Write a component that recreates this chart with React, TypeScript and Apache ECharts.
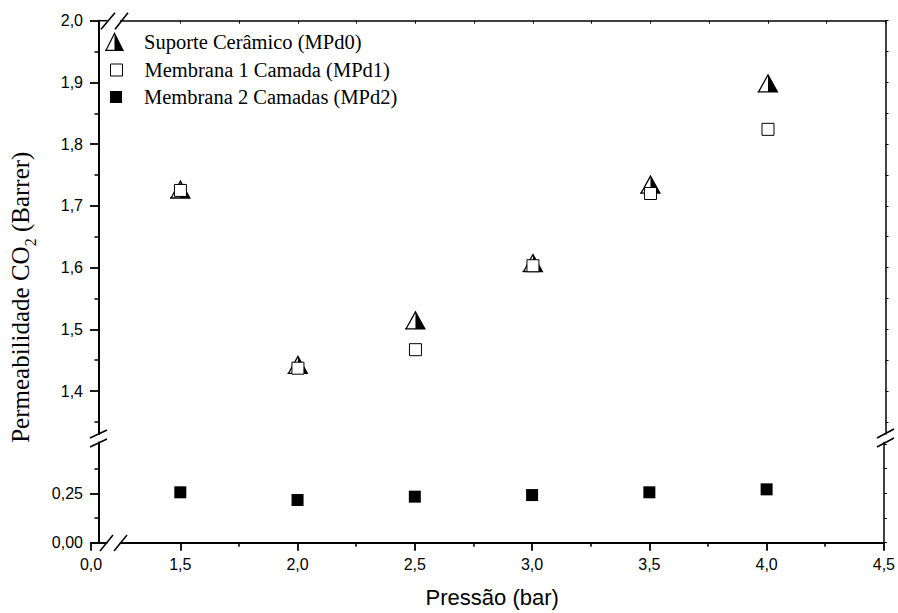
import React, { useEffect, useRef } from 'react';
import * as echarts from 'echarts';

// ---------- data ----------
const pressure = [1.5, 2.0, 2.5, 3.0, 3.5, 4.0];
const mpd0 = [1.727, 1.443, 1.515, 1.608, 1.735, 1.899];
const mpd1 = [1.725, 1.437, 1.467, 1.603, 1.72, 1.824];
const mpd2 = [0.255, 0.216, 0.233, 0.241, 0.255, 0.27];

const seriesNames = ['Suporte Cerâmico (MPd0)', 'Membrana 1 Camada (MPd1)', 'Membrana 2 Camadas (MPd2)'];

const xMajor = [1.5, 2.0, 2.5, 3.0, 3.5, 4.0, 4.5];
const xMinor = [1.75, 2.25, 2.75, 3.25, 3.75, 4.25];
const xLeftTicks = [0];
const yUpMajor = [1.4, 1.5, 1.6, 1.7, 1.8, 1.9, 2.0];
const yUpMinor = [1.35, 1.45, 1.55, 1.65, 1.75, 1.85, 1.95];
const yLoMajor = [0, 0.25];
const yLoMinor = [0.125, 0.375];

// ---------- axis ranges (broken axes) ----------
const X_MIN = 1.245;
const X_MAX = 4.5;
const XL_MAX = 0.066;
const YU_MIN = 1.3304;
const YU_MAX = 2.0;
const YL_MIN = 0;
const YL_MAX = 0.507;

const BLACK = '#000';
const SANS = 'Liberation Sans, Arial, sans-serif';
const SERIF = 'Liberation Serif, Times New Roman, serif';
const TRI = 'path://M50 0 L50 100 L100 100 Z M50 0 L0 100 L7 100 L50 14 Z M0 100 L50 100 L50 93 L0 93 Z';

const fmt1 = (v: number) => v.toFixed(1).replace('.', ',');
const fmt2 = (v: number) => v.toFixed(2).replace('.', ',');

const line = (w: number) => ({ show: true, onZero: false, lineStyle: { color: BLACK, width: w } });
const noLine = { show: false, onZero: false };
const tickLbl = { fontFamily: SANS, fontSize: 16, color: BLACK };

function buildOption() {
  const xAxis: any[] = [
    // 0: top border of upper panel
    {
      type: 'value', gridIndex: 0, position: 'top', min: X_MIN, max: X_MAX,
      axisLine: line(1.5),
      axisTick: { show: true, inside: true, length: 3, customValues: [...xMajor, ...xMinor], lineStyle: { color: BLACK, width: 1 } },
      axisLabel: { show: false }, splitLine: { show: false },
    },
    // 1: bottom main axis
    {
      type: 'value', gridIndex: 1, position: 'bottom', min: X_MIN, max: X_MAX,
      axisLine: line(2),
      axisTick: { show: true, length: 8, customValues: xMajor, lineStyle: { color: BLACK, width: 1.8 } },
      axisLabel: { show: true, customValues: xMajor, formatter: fmt1, margin: 14, ...tickLbl },
      splitLine: { show: false },
    },
    // 2: bottom minor ticks
    {
      type: 'value', gridIndex: 1, position: 'bottom', min: X_MIN, max: X_MAX,
      axisLine: noLine,
      axisTick: { show: true, length: 4, customValues: xMinor, lineStyle: { color: BLACK, width: 1.5 } },
      axisLabel: { show: false }, splitLine: { show: false },
    },
    // 3: short left piece of broken x axis
    {
      type: 'value', gridIndex: 2, position: 'bottom', min: 0, max: XL_MAX,
      axisLine: line(2),
      axisTick: { show: true, length: 8, customValues: xLeftTicks, lineStyle: { color: BLACK, width: 1.8 } },
      axisLabel: { show: true, customValues: xLeftTicks, formatter: fmt1, margin: 14, ...tickLbl },
      splitLine: { show: false },
    },
    // 4: name carrier
    {
      type: 'value', gridIndex: 3, position: 'bottom', min: 0, max: 1,
      axisLine: noLine, axisTick: { show: false }, axisLabel: { show: false }, splitLine: { show: false },
      name: 'Pressão (bar)', nameLocation: 'middle', nameGap: 49,
      nameTextStyle: { fontFamily: SANS, fontSize: 22, color: BLACK },
    },
  ];

  const yAxis: any[] = [
    // 0 upper left
    {
      type: 'value', gridIndex: 0, position: 'left', offset: 21.5, min: YU_MIN, max: YU_MAX,
      axisLine: line(2),
      axisTick: { show: true, length: 9, customValues: yUpMajor, lineStyle: { color: BLACK, width: 1.8 } },
      axisLabel: { show: true, customValues: yUpMajor, formatter: fmt1, margin: 16, ...tickLbl },
      splitLine: { show: false },
    },
    // 1 upper left minor
    {
      type: 'value', gridIndex: 0, position: 'left', offset: 21.5, min: YU_MIN, max: YU_MAX,
      axisLine: noLine,
      axisTick: { show: true, length: 4.5, customValues: yUpMinor, lineStyle: { color: BLACK, width: 1.5 } },
      axisLabel: { show: false }, splitLine: { show: false },
    },
    // 2 upper right
    {
      type: 'value', gridIndex: 0, position: 'right', min: YU_MIN, max: YU_MAX,
      axisLine: line(1.5),
      axisTick: { show: true, length: 3, customValues: [...yUpMajor, ...yUpMinor], lineStyle: { color: BLACK, width: 1 } },
      axisLabel: { show: false }, splitLine: { show: false },
    },
    // 3 lower left
    {
      type: 'value', gridIndex: 1, position: 'left', offset: 21.5, min: YL_MIN, max: YL_MAX,
      axisLine: line(2),
      axisTick: { show: true, length: 9, customValues: yLoMajor, lineStyle: { color: BLACK, width: 1.8 } },
      axisLabel: { show: true, customValues: yLoMajor, formatter: fmt2, margin: 16, ...tickLbl },
      splitLine: { show: false },
    },
    // 4 lower left minor
    {
      type: 'value', gridIndex: 1, position: 'left', offset: 21.5, min: YL_MIN, max: YL_MAX,
      axisLine: noLine,
      axisTick: { show: true, length: 4.5, customValues: yLoMinor, lineStyle: { color: BLACK, width: 1.5 } },
      axisLabel: { show: false }, splitLine: { show: false },
    },
    // 5 lower right
    {
      type: 'value', gridIndex: 1, position: 'right', min: YL_MIN, max: YL_MAX,
      axisLine: line(1.5),
      axisTick: { show: true, length: 3, customValues: [...yLoMajor, ...yLoMinor, 0.5], lineStyle: { color: BLACK, width: 1 } },
      axisLabel: { show: false }, splitLine: { show: false },
    },
    // 6 hidden for left x piece
    { type: 'value', gridIndex: 2, show: false, min: 0, max: 1 },
    // 7 name carrier
    {
      type: 'value', gridIndex: 3, position: 'left', min: 0, max: 1,
      axisLine: noLine, axisTick: { show: false }, axisLabel: { show: false }, splitLine: { show: false },
      name: '{a|Permeabilidade CO}{s|2}{a| (Barrer)}', nameLocation: 'middle', nameGap: 61,
      nameTextStyle: {
        color: BLACK,
        rich: {
          a: { fontFamily: SERIF, fontSize: 25, color: BLACK, verticalAlign: 'top' },
          s: { fontFamily: SERIF, fontSize: 16, color: BLACK, verticalAlign: 'top', padding: [14, 0, 0, 0] },
        },
      },
    },
  ];

  const legendBase = {
    orient: 'vertical', padding: 0, selectedMode: false,
  };

  const slash = (x1: number, y1: number, x2: number, y2: number) => ({
    type: 'line', z: 100, shape: { x1, y1, x2, y2 }, style: { stroke: BLACK, lineWidth: 1.6 },
  });

  const legendText = (pad: number) => ({ fontFamily: SERIF, fontSize: 20.5, color: BLACK, padding: [0, 0, 0, pad] });

  return {
    animation: false,
    backgroundColor: '#fff',
    grid: [
      { left: 120.5, right: 12.5, top: 20.7, bottom: 179 },
      { left: 120.5, right: 12.5, top: 442.5, bottom: 70.3 },
      { left: 91, width: 15.5, top: 442.5, bottom: 70.3 },
      { left: 99, right: 12.5, top: 57.4, bottom: 70.3 },
    ],
    xAxis,
    yAxis,
    legend: [
      {
        ...legendBase, left: 105, top: 31, itemWidth: 21, itemHeight: 19,
        data: [{ name: seriesNames[0], icon: TRI, itemStyle: { color: BLACK, borderWidth: 0, opacity: 1 } }],
        textStyle: legendText(14),
      },
      {
        ...legendBase, left: 110, top: 59.5, itemWidth: 12, itemHeight: 12,
        data: [{ name: seriesNames[1], icon: 'rect', itemStyle: { color: '#fff', borderColor: BLACK, borderWidth: 1, opacity: 1 } }],
        textStyle: legendText(17),
      },
      {
        ...legendBase, left: 110, top: 86.5, itemWidth: 12, itemHeight: 12,
        data: [{ name: seriesNames[2], icon: 'rect', itemStyle: { color: BLACK, borderWidth: 0, opacity: 1 } }],
        textStyle: legendText(17),
      },
    ],
    series: [
      {
        type: 'scatter', name: seriesNames[0], xAxisIndex: 0, yAxisIndex: 0,
        data: pressure.map((p, i) => [p, mpd0[i]]),
        symbol: TRI, symbolSize: [21, 19],
        itemStyle: { color: BLACK, borderWidth: 0, opacity: 1 },
      },
      {
        type: 'scatter', name: seriesNames[1], xAxisIndex: 0, yAxisIndex: 0,
        data: pressure.map((p, i) => [p, mpd1[i]]),
        symbol: 'rect', symbolSize: 12,
        itemStyle: { color: '#fff', borderColor: BLACK, borderWidth: 1, opacity: 1 },
      },
      {
        type: 'scatter', name: seriesNames[2], xAxisIndex: 1, yAxisIndex: 3,
        data: pressure.map((p, i) => [p, mpd2[i]]),
        symbol: 'rect', symbolSize: 12,
        itemStyle: { color: BLACK, borderWidth: 0, opacity: 1 },
      },
    ],
    graphic: [
      // small piece of top border left of the break
      { type: 'line', z: 100, shape: { x1: 98, y1: 20.7, x2: 107.5, y2: 20.7 }, style: { stroke: BLACK, lineWidth: 1.5 } },
      // top axis break
      slash(101, 29.3, 115, 12.7),
      slash(115, 29.3, 128, 12.7),
      // bottom axis break
      slash(100, 551, 113, 535),
      slash(114, 551, 127, 535),
      // left axis break
      slash(90, 438, 107, 430),
      slash(90, 447, 107, 439),
      // right axis break
      slash(877, 438, 894, 429),
      slash(877, 447, 894, 438),
    ],
  };
}

export default function App() {
  const ref = useRef<HTMLDivElement>(null);
  useEffect(() => {
    if (!ref.current) return;
    const chart = echarts.init(ref.current, null, { renderer: 'svg' });
    chart.setOption(buildOption() as any);
    return () => chart.dispose();
  }, []);
  return (
    <div
      ref={ref}
      style={{ position: 'absolute', left: 0, top: 0, width: 898, height: 613, background: '#fff' }}
    />
  );
}
